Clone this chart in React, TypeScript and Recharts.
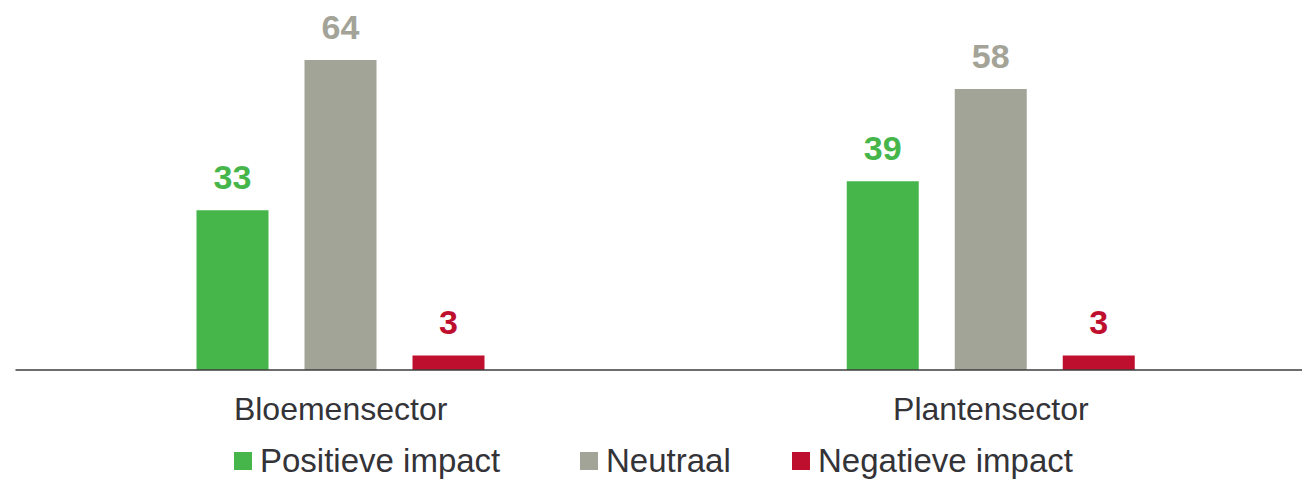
import React from 'react';
import { BarChart, Bar, XAxis, YAxis, Legend, LabelList } from 'recharts';

const categories = ['Bloemensector', 'Plantensector'];
const positief = [33, 39];
const neutraal = [64, 58];
const negatief = [3, 3];

const seriesNames = ['Positieve impact', 'Neutraal', 'Negatieve impact'];
const colors = ['#46b64a', '#a2a497', '#be102e'];
const labelColors = ['#46b64a', '#a3a398', '#be102e'];

const data = categories.map((name, i) => ({
  name,
  positief: positief[i],
  neutraal: neutraal[i],
  negatief: negatief[i],
}));

const FONT = '"Liberation Sans", Arial, sans-serif';

const legendWidths = [346, 212, 300];

const renderLegend = () => (
  <div style={{ display: 'flex', paddingLeft: 234, height: 40, alignItems: 'center', fontFamily: FONT }}>
    {seriesNames.map((s, i) => (
      <div key={s} style={{ display: 'flex', alignItems: 'center', width: legendWidths[i] }}>
        <span style={{ display: 'inline-block', width: 18, height: 18, background: colors[i], marginRight: 8 }} />
        <span style={{ fontSize: 33, lineHeight: '40px', color: '#333338' }}>{s}</span>
      </div>
    ))}
  </div>
);

export default function App() {
  const keys = ['positief', 'neutraal', 'negatief'];
  return (
    <div style={{ position: 'absolute', left: 0, top: 0, width: 1302, height: 481, overflow: 'hidden', background: '#fff' }}>
      <BarChart
        width={1316}
        height={481}
        data={data}
        margin={{ top: 31, right: 0, bottom: 0, left: 15.5 }}
        barSize={72}
        barGap={36}
      >
        <XAxis
          dataKey="name"
          height={71}
          tickLine={false}
          tickSize={0}
          tickMargin={27}
          axisLine={{ stroke: '#3c3c3c', strokeWidth: 1.5 }}
          tick={{ fontSize: 32, fill: '#333338', fontFamily: FONT }}
        />
        <YAxis hide domain={[0, 70]} allowDataOverflow />
        <Legend
          verticalAlign="bottom"
          content={renderLegend}
          wrapperStyle={{ left: 0, width: 1302, height: 40 }}
        />
        {keys.map((k, i) => (
          <Bar key={k} dataKey={k} name={seriesNames[i]} fill={colors[i]} isAnimationActive={false}>
            <LabelList
              dataKey={k}
              position="top"
              offset={21}
              style={{ fontSize: 34, fontWeight: 'bold', fill: labelColors[i], fontFamily: FONT }}
            />
          </Bar>
        ))}
      </BarChart>
    </div>
  );
}
